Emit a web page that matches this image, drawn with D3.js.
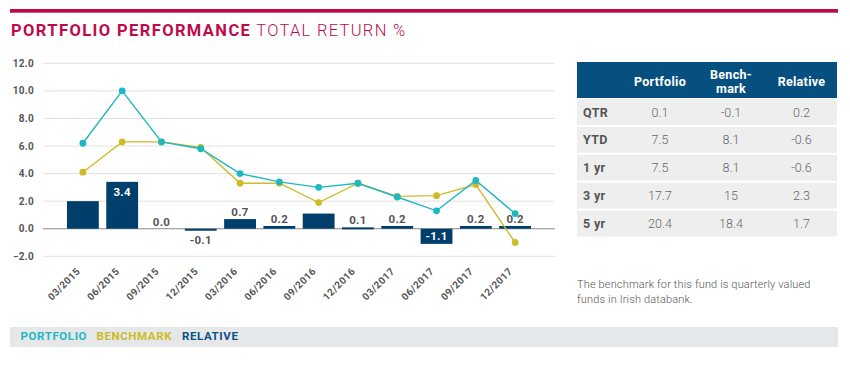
<!DOCTYPE html>
<html>
<head>
<meta charset="utf-8">
<title>Portfolio performance</title>
<script src="https://cdn.jsdelivr.net/npm/d3@7"></script>
<style>
  body { margin: 0; background: #fff; font-family: Roboto, "Open Sans", sans-serif; }
  svg text { font-family: Roboto, "Open Sans", sans-serif; }
</style>
</head>
<body>
<svg id="chart" width="850" height="368"></svg>
<script>
// quarters on the x axis
var quarters = ["03/2015", "06/2015", "09/2015", "12/2015", "03/2016", "06/2016",
                "09/2016", "12/2016", "03/2017", "06/2017", "09/2017", "12/2017"];
var portfolio = [6.2, 10.0, 6.3, 5.8, 4.0, 3.4, 3.0, 3.3, 2.3, 1.3, 3.5, 1.1];
var benchmark = [4.1, 6.3, 6.3, 5.9, 3.3, 3.3, 1.9, 3.3, 2.35, 2.4, 3.2, -1.0];
var relative = [2.0, 3.4, 0.0, -0.1, 0.7, 0.2, 1.1, 0.1, 0.2, -1.1, 0.2, 0.2];
// labels printed on the bars (two are not shown in the original)
var relLabels = ["", "3.4", "0.0", "-0.1", "0.7", "0.2", "", "0.1", "0.2", "-1.1", "0.2", "0.2"];
var yTicks = [-2, 0, 2, 4, 6, 8, 10, 12];

// summary table
var tableCols = ["Portfolio", "Bench-|mark", "Relative"];
var tableRows = ["QTR", "YTD", "1 yr", "3 yr", "5 yr"];
var tablePortfolio = ["0.1", "7.5", "7.5", "17.7", "20.4"];
var tableBenchmark = ["-0.1", "8.1", "8.1", "15", "18.4"];
var tableRelative = ["0.2", "-0.6", "-0.6", "2.3", "1.7"];

var legendItems = ["PORTFOLIO", "BENCHMARK", "RELATIVE"];
var note = ["The benchmark for this fund is quarterly valued", "funds in Irish databank."];

var red = "#be0a4b", teal = "#1fb7c2", yellow = "#cdbb28", navy = "#003f6c",
    headBlue = "#06507f", grey = "#555";

var svg = d3.select("#chart");

// top rule + title
svg.append("rect").attr("x", 10).attr("y", 9).attr("width", 828).attr("height", 3.7).attr("fill", red);
var title = svg.append("text").attr("x", 11).attr("y", 35.5).attr("fill", red).style("font-size", "16.5px");
title.append("tspan").attr("font-weight", 700).style("letter-spacing", "1.4px").text("PORTFOLIO PERFORMANCE");
title.append("tspan").attr("font-weight", 300).style("letter-spacing", "1.3px").text(" TOTAL RETURN %");

/* CHART */
var x = d3.scaleBand().domain(quarters).range([43, 555]).paddingInner(0.19).paddingOuter(0.61);
var y = d3.scaleLinear().domain([-2, 12]).range([256.3, 63.3]);

var g = svg.append("g");

g.selectAll(".grid").data(yTicks).enter().append("line")
    .attr("x1", 43).attr("x2", 555)
    .attr("y1", function (d) { return y(d); })
    .attr("y2", function (d) { return y(d); })
    .attr("stroke", function (d) { return d == 0 ? "#8a8a8a" : "#e2e2e2"; })
    .attr("stroke-width", function (d) { return d == 0 ? 1.2 : 1; });

g.selectAll(".ylab").data(yTicks).enter().append("text")
    .attr("x", 34).attr("y", function (d) { return y(d) + 3.5; })
    .attr("text-anchor", "end").attr("fill", grey)
    .style("font-size", "10px").style("font-weight", 700).style("letter-spacing", "0.3px")
    .text(function (d) { return d3.format(".1f")(d); });

// relative bars
g.selectAll(".bar").data(relative).enter().append("rect")
    .attr("x", function (d, i) { return x(quarters[i]); })
    .attr("width", x.bandwidth())
    .attr("y", function (d) { return y(Math.max(0, d)); })
    .attr("height", function (d) { return d == 0 ? 0 : Math.max(2, Math.abs(y(d) - y(0))); })
    .attr("fill", navy);

g.selectAll(".barlab").data(relative).enter().append("text")
    .attr("x", function (d, i) { return x(quarters[i]) + x.bandwidth() / 2; })
    .attr("y", function (d) {
        if (Math.abs(d) >= 1) return d > 0 ? y(d) + 14 : y(d) - 4;
        return d >= 0 ? y(d) - 3 : y(0) + 15;
    })
    .attr("text-anchor", "middle")
    .attr("fill", function (d) { return Math.abs(d) >= 1 ? "#fff" : grey; })
    .style("font-size", "11.5px").style("font-weight", 700).style("letter-spacing", "0.3px")
    .text(function (d, i) { return relLabels[i]; });

// lines
var line = d3.line()
    .x(function (d, i) { return x(quarters[i]) + x.bandwidth() / 2; })
    .y(function (d) { return y(d); });

[[benchmark, yellow], [portfolio, teal]].forEach(function (s) {
    g.append("path").datum(s[0]).attr("d", line)
        .attr("fill", "none").attr("stroke", s[1]).attr("stroke-width", 1.4);
    g.selectAll(null).data(s[0]).enter().append("circle")
        .attr("cx", function (d, i) { return x(quarters[i]) + x.bandwidth() / 2; })
        .attr("cy", function (d) { return y(d); })
        .attr("r", 3.4).attr("fill", s[1]);
});

// x labels
g.selectAll(".xlab").data(quarters).enter().append("text")
    .attr("transform", function (d) {
        return "translate(" + (x(d) + x.bandwidth() / 2 - 2) + ",272) rotate(-45)";
    })
    .attr("text-anchor", "end").attr("fill", grey)
    .style("font-size", "10px").style("font-weight", 700).style("letter-spacing", "0.4px")
    .text(function (d) { return d; });

// legend band
svg.append("rect").attr("x", 10).attr("y", 327).attr("width", 828).attr("height", 20).attr("fill", "#e6e7e8");
var legColors = [teal, yellow, "#0a4f86"];
var legX = [20.5, 96.5, 182];
svg.selectAll(".leg").data(legendItems).enter().append("text")
    .attr("x", function (d, i) { return legX[i]; }).attr("y", 339.5)
    .attr("fill", function (d, i) { return legColors[i]; })
    .style("font-size", "11.5px").style("font-weight", 700).style("letter-spacing", "0.6px")
    .text(function (d) { return d; });

/* TABLE */
var colX = [660, 731, 801.5];
var t = svg.append("g");
t.append("rect").attr("x", 577).attr("y", 62).attr("width", 260).attr("height", 36).attr("fill", headBlue);
tableCols.forEach(function (c, i) {
    var parts = c.split("|");
    parts.forEach(function (p, j) {
        t.append("text").attr("x", colX[i])
            .attr("y", parts.length == 1 ? 86 : 78.5 + j * 14)
            .attr("text-anchor", "middle").attr("fill", "#fff")
            .style("font-size", "12.5px").style("font-weight", 700).style("letter-spacing", "0.3px")
            .text(p);
    });
});

var rowY = d3.scaleBand().domain(tableRows).range([99, 236.5]).paddingInner(0.075).paddingOuter(0);
var cols = [tablePortfolio, tableBenchmark, tableRelative];
tableRows.forEach(function (r, i) {
    var ry = rowY(r);
    t.append("rect").attr("x", 577).attr("y", ry).attr("width", 260).attr("height", rowY.bandwidth()).attr("fill", "#eeeeee");
    t.append("text").attr("x", 583).attr("y", ry + 17.5).attr("fill", grey)
        .style("font-size", "12.5px").style("font-weight", 700).style("letter-spacing", "0.3px").text(r);
    cols.forEach(function (col, k) {
        t.append("text").attr("x", colX[k]).attr("y", ry + 17.5).attr("text-anchor", "middle")
            .attr("fill", "#666").style("font-size", "12.5px").style("font-weight", 300)
            .text(col[i]);
    });
});

// footnote
svg.selectAll(".note").data(note).enter().append("text")
    .attr("x", 577).attr("y", function (d, i) { return 288 + i * 14.5; })
    .attr("fill", grey).style("font-size", "11px").style("font-weight", 300).style("letter-spacing", "0.15px")
    .text(function (d) { return d; });
</script>
</body>
</html>
